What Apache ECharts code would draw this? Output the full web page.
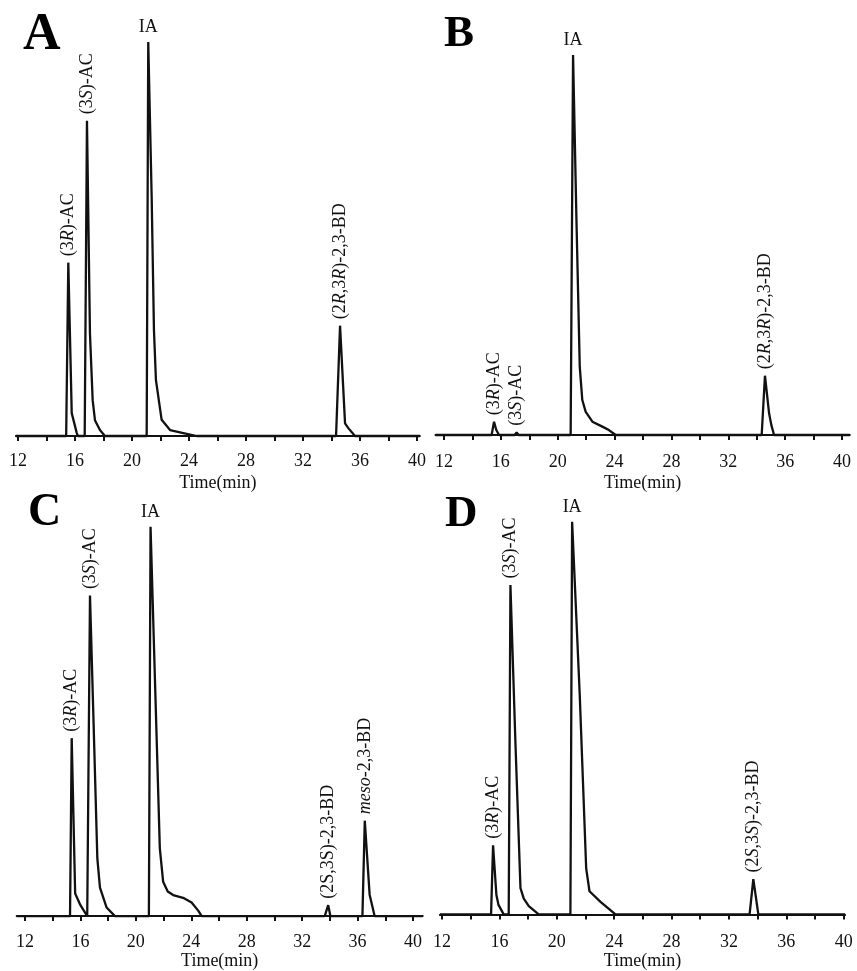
<!DOCTYPE html>
<html>
<head>
<meta charset="utf-8">
<script src="https://cdn.jsdelivr.net/npm/echarts@6/dist/echarts.min.js"></script>
<style>
  html, body { margin: 0; padding: 0; background: #fff; }
  #main { width: 857px; height: 971px; }
</style>
</head>
<body>
<div id="main"></div>
<script>
// retention time (min) and detector response (IA peak = 100)
var tA = [11.85, 15.38, 15.53, 15.77, 16.12, 16.2, 16.68, 16.84, 17.05, 17.24, 17.4, 17.75, 18.1, 21.03, 21.14, 21.38, 21.54, 21.68, 22.08, 22.67, 23.6, 24.54, 34.32, 34.6, 34.95, 35.18, 35.65, 40.2];
var yA = [0, 0, 44, 5.8, 0.8, 0, 0, 80, 26, 9.1, 4, 1.5, 0, 0, 100, 60.7, 26.9, 14.2, 4.1, 1.5, 0.76, 0, 0, 28, 3.2, 2, 0, 0];

var tB = [11.4, 15.35, 15.52, 15.68, 15.87, 16.97, 17.11, 17.25, 20.91, 21.08, 21.31, 21.55, 21.73, 21.97, 22.44, 23.14, 23.6, 24.08, 34.35, 34.58, 34.87, 35.03, 35.22, 40.55];
var yB = [0, 0, 3.5, 1.3, 0, 0, 0.7, 0, 0, 100, 58, 18, 9.2, 6.1, 3.5, 2.2, 1.3, 0, 0, 15.6, 5.7, 2.6, 0, 0];

var tC = [11.4, 15.25, 15.37, 15.62, 16.0, 16.49, 16.59, 16.69, 16.93, 17.22, 17.41, 17.89, 18.49, 20.94, 21.06, 21.4, 21.73, 21.97, 22.3, 22.69, 23.41, 24.02, 24.5, 24.75, 33.63, 33.88, 34.04, 36.35, 36.52, 36.87, 37.23, 40.7];
var yC = [0, 0, 45.7, 5.8, 2.8, 0, 0, 82.3, 52, 14.8, 7.3, 2.2, 0, 0, 100, 58, 17.4, 8.8, 6.3, 5.4, 4.7, 3.5, 1.4, 0, 0, 2.8, 0, 0, 24.5, 5.5, 0, 0];

var tD = [11.85, 15.42, 15.56, 15.79, 15.93, 16.3, 16.65, 16.77, 17.12, 17.47, 17.7, 18.05, 18.74, 20.95, 21.07, 21.6, 22.05, 22.28, 23.05, 24.09, 33.44, 33.7, 34.05, 40.1];
var yD = [0, 0, 17.6, 5, 2.5, 0, 0, 83.9, 43.5, 6.7, 4, 2.1, 0, 0, 100, 56, 11.7, 5.9, 3.2, 0, 0, 9, 0, 0];

// peak annotations: retention time of the apex and its name
var peakTA = [15.53, 16.84, 21.14, 34.6];
var peakNA = ['(3{i|R})-AC', '(3{i|S})-AC', 'IA', '(2{i|R},3{i|R})-2,3-BD'];
var peakTB = [15.52, 17.11, 21.08, 34.58];
var peakNB = ['(3{i|R})-AC', '(3{i|S})-AC', 'IA', '(2{i|R},3{i|R})-2,3-BD'];
var peakTC = [15.37, 16.69, 21.06, 33.88, 36.52];
var peakNC = ['(3{i|R})-AC', '(3{i|S})-AC', 'IA', '(2S,3S)-2,3-BD', '{i|meso}-2,3-BD'];
var peakTD = [15.56, 16.77, 21.07, 33.7];
var peakND = ['(3{i|R})-AC', '(3{i|S})-AC', 'IA', '(2{i|S},3{i|S})-2,3-BD'];

var tickVals = [12, 14, 16, 18, 20, 22, 24, 26, 28, 30, 32, 34, 36, 38, 40];
var labelVals = [12, 16, 20, 24, 28, 32, 36, 40];
var panelNames = ['A', 'B', 'C', 'D'];

var FONT = '"Liberation Serif", "Times New Roman", serif';
var INK = '#111';

// pixel layout of each panel: x of 12 and 40 min, peak top, baseline, axis line
var panels = [
	{ t: tA, y: yA, pt: peakTA, pn: peakNA, x12: 18, x40: 417, top: 42, base: 436, axis: 445, min: 11.85, max: 40.2, gap: 29, lx: 23, ly: 36, ls: 52 },
	{ t: tB, y: yB, pt: peakTB, pn: peakNB, x12: 444, x40: 842, top: 55, base: 435, axis: 446.7, min: 11.4, max: 40.55, gap: 28, lx: 444, ly: 34, ls: 45 },
	{ t: tC, y: yC, pt: peakTC, pn: peakNC, x12: 25, x40: 413, top: 526.7, base: 921.7, axis: 931.7, min: 11.4, max: 40.7, gap: 21, lx: 28, ly: 513, ls: 46 },
	{ t: tD, y: yD, pt: peakTD, pn: peakND, x12: 442, x40: 843.7, top: 521.7, base: 920, axis: 931.7, min: 11.85, max: 40.1, gap: 23, lx: 445, ly: 514, ls: 45 }
];

var grids = [], xAxes = [], yAxes = [], series = [], texts = [];

panels.forEach(function(p, k) {
	var ppm = (p.x40 - p.x12) / 28;
	grids.push({
		left: p.x12 - (12 - p.min) * ppm,
		width: (p.max - p.min) * ppm,
		top: p.top,
		height: p.base - p.top
	});
	xAxes.push({
		type: 'value', gridIndex: k, min: p.min, max: p.max,
		offset: p.axis - p.base,
		name: 'Time(min)', nameLocation: 'middle', nameGap: p.gap,
		nameTextStyle: { fontFamily: FONT, fontSize: 18, color: INK },
		axisLine: { show: true, lineStyle: { color: INK, width: 2 } },
		axisTick: { show: true, inside: false, length: 5, customValues: tickVals, lineStyle: { color: INK, width: 2 } },
		axisLabel: { customValues: labelVals, margin: 7, fontFamily: FONT, fontSize: 18, color: INK },
		splitLine: { show: false }
	});
	yAxes.push({ type: 'value', gridIndex: k, min: 0, max: 100, show: false });

	var data = [];
	for (var i = 0; i < p.t.length; i++) {
		var item = { value: [p.t[i], p.y[i]], symbolSize: 0 };
		var j = p.pt.indexOf(p.t[i]);
		if (j >= 0) {
			var flat = p.pn[j] == 'IA';
			item.symbolSize = 1;
			item.label = {
				show: true,
				formatter: p.pn[j],
				position: 'top',
				distance: flat ? 5 : 6,
				rotate: flat ? 0 : 90,
				align: flat ? 'center' : 'left',
				verticalAlign: flat ? 'bottom' : 'middle',
				fontFamily: FONT, fontSize: 18, color: INK,
				rich: { i: { fontFamily: FONT, fontSize: 18, fontStyle: 'italic', color: INK } }
			};
		}
		data.push(item);
	}
	series.push({
		type: 'line', xAxisIndex: k, yAxisIndex: k,
		data: data, showSymbol: true, showAllSymbol: true, symbol: 'circle', clip: false,
		itemStyle: { color: 'rgba(0,0,0,0)', borderWidth: 0 },
		lineStyle: { color: INK, width: 2.3 },
		emphasis: { disabled: true },
		animation: false
	});

	texts.push({
		type: 'text', left: p.lx, top: p.ly - p.ls / 2,
		style: { text: panelNames[k], fontFamily: FONT, fontWeight: 'bold', fontSize: p.ls, fill: '#000' }
	});
});

var myChart = echarts.init(document.getElementById('main'), null, { renderer: 'canvas' });
myChart.setOption({
	backgroundColor: '#fff',
	animation: false,
	grid: grids,
	xAxis: xAxes,
	yAxis: yAxes,
	series: series,
	graphic: texts
});
</script>
</body>
</html>
